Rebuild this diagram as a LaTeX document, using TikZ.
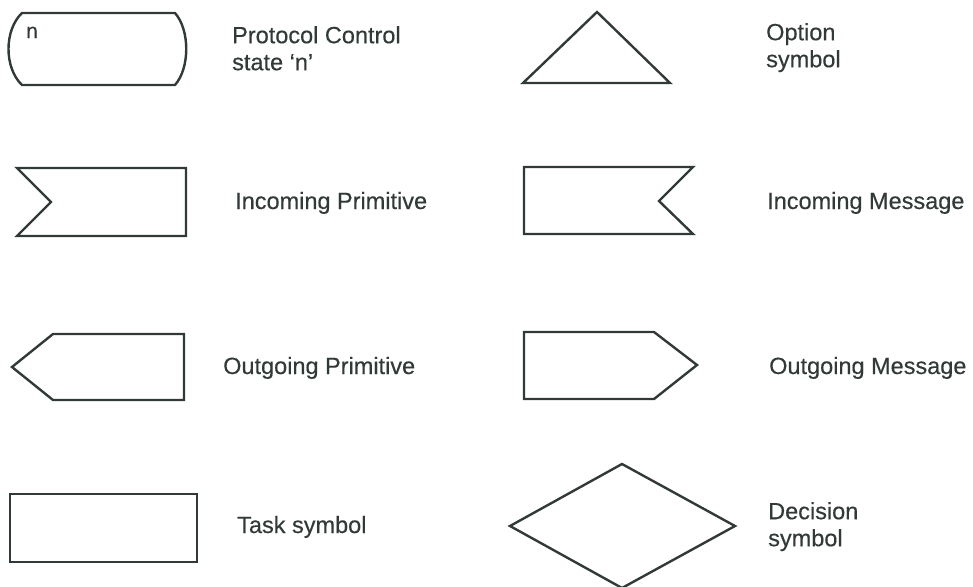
\documentclass[tikz,border=0pt]{standalone}
\usepackage{fontspec}
\setmainfont{Liberation Sans}[FakeBold=0.35]
\definecolor{ink}{RGB}{50,58,56}

\begin{document}
\begin{tikzpicture}[x=1pt,y=-1pt,
  sym/.style={draw=ink, line width=2.4pt},
  caption/.style={text=ink, inner sep=0pt, align=left, font=\fontsize{23.5}{27}\selectfont}]
  \useasboundingbox (0,0) rectangle (973,586);
  % left column
  \draw[sym] (22,13) -- (175,13) .. controls (190,30) and (190,68) .. (175,85)
    -- (22,85) .. controls (4,68) and (4,30) .. (22,13) -- cycle;
  \node[caption, anchor=base west, font=\fontsize{21}{24}\selectfont] (staten) at (26,38) {n};
  \node[caption, anchor=north west] (statetxt) at (232,26) {Protocol Control\\state ‘n’};
  \draw[sym] (17,168) -- (186,168) -- (186,236) -- (17,236) -- (51,202) -- cycle;
  \node[caption, anchor=base west] (inprimtxt) at (235,209) {Incoming Primitive};
  \draw[sym] (12,367) -- (53,334) -- (184,334) -- (184,400) -- (53,400) -- cycle;
  \node[caption, anchor=base west] (outprimtxt) at (223,374) {Outgoing Primitive};
  \draw[sym] (10,494) rectangle (197,562);
  \node[caption, anchor=base west] (tasktxt) at (237,533) {Task symbol};
  % right column
  \draw[sym] (597,12) -- (670,83) -- (523,83) -- cycle;
  \node[caption, anchor=north west] (optiontxt) at (766,23) {Option\\symbol};
  \draw[sym] (524,167) -- (693,167) -- (659,201) -- (693,234) -- (524,234) -- cycle;
  \node[caption, anchor=base west] (inmsgtxt) at (767,209) {Incoming Message};
  \draw[sym] (524,332) -- (654,332) -- (697,365) -- (654,399) -- (524,399) -- cycle;
  \node[caption, anchor=base west] (outmsgtxt) at (769,374) {Outgoing Message};
  \draw[sym] (510,526) -- (622,464) -- (735,526) -- (622,588) -- cycle;
  \node[caption, anchor=north west] (decisiontxt) at (768,502) {Decision\\symbol};
\end{tikzpicture}
\end{document}
